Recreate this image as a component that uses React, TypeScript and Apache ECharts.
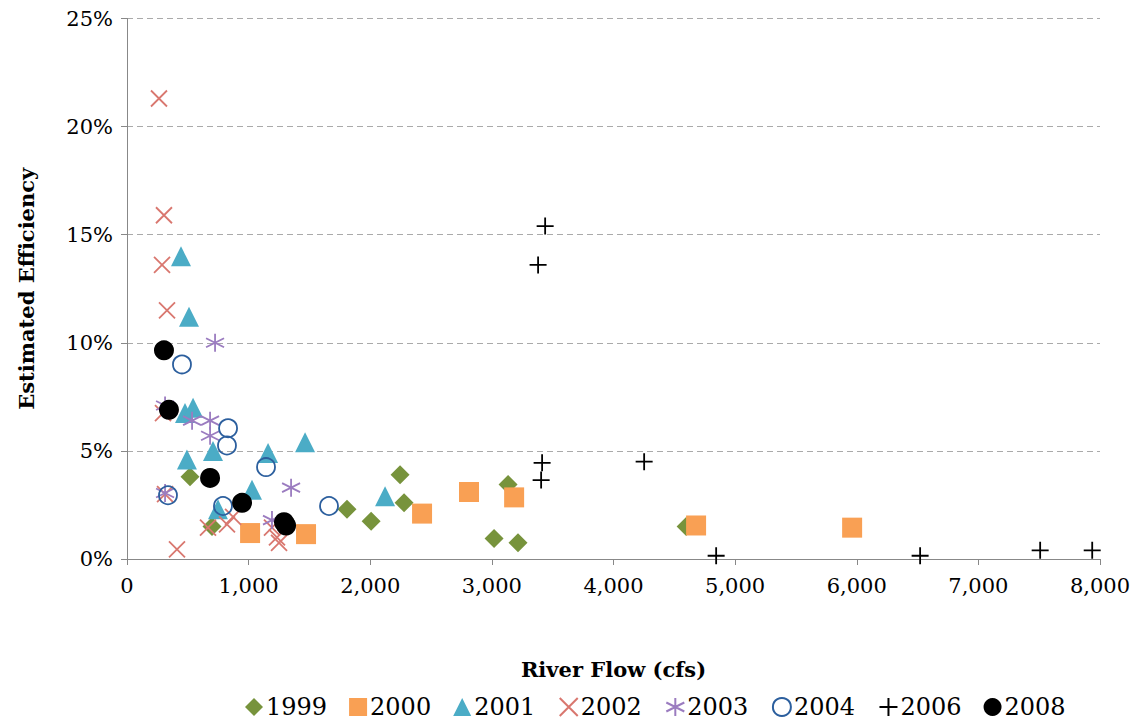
import React, { useEffect, useRef } from "react";
import * as echarts from "echarts";

const s1999 = [[518, 3.8], [699, 1.5], [1809, 2.3], [2007, 1.75], [2245, 3.9], [2278, 2.6], [3018, 0.95], [3215, 0.75], [3133, 3.45], [4597, 1.5]];
const s2000 = [[1012, 1.2], [1472, 1.15], [2426, 2.1], [2812, 3.1], [3183, 2.85], [4679, 1.55], [5962, 1.45]];
const s2001 = [[444, 14.0], [510, 11.2], [493, 4.6], [477, 6.75], [543, 7.0], [707, 5.0], [1160, 4.9], [1028, 3.2], [748, 2.3], [1464, 5.4], [2122, 2.9]];
const s2002 = [[263, 21.3], [304, 15.9], [288, 13.6], [329, 11.5], [296, 6.75], [313, 3.0], [411, 0.45], [666, 1.45], [822, 1.6], [872, 1.95], [1250, 0.75], [1233, 1.0], [1192, 1.45]];
const s2003 = [[724, 10.0], [313, 7.1], [535, 6.4], [683, 6.4], [683, 5.7], [313, 3.05], [1349, 3.3], [1192, 1.8]];
const s2004 = [[452, 9.0], [831, 6.05], [822, 5.25], [1143, 4.25], [337, 2.95], [789, 2.45], [1661, 2.45]];
const s2006 = [[3438, 15.4], [3380, 13.6], [3413, 4.45], [3405, 3.65], [4252, 4.5], [4844, 0.15], [6521, 0.15], [7508, 0.4], [7936, 0.4]];
const s2008 = [[304, 9.65], [345, 6.9], [683, 3.75], [946, 2.6], [1291, 1.7], [1308, 1.55]];

const xPath = "M0,0L10,10M10,0L0,10";
const plusPath = "M5,0L5,10M0,5L10,5";
const starPath = "M5,0L5,10M0,2.5L10,7.5M0,7.5L10,2.5";

const FONT = "DejaVu Serif";

export default function App() {
  const ref = useRef<HTMLDivElement>(null);
  useEffect(() => {
    if (!ref.current) return;
    const chart = echarts.init(ref.current, null, { renderer: "svg" });
    const mk = (name: string, data: number[][], symbol: string, size: number, color: string, stroke = false) => ({
      name,
      type: "scatter",
      data,
      symbol,
      symbolSize: size,
      itemStyle: stroke
        ? { color: "none", borderColor: color, borderWidth: 1.8, opacity: 1 }
        : { color, opacity: 1 },
    });
    chart.setOption({
      animation: false,
      textStyle: { fontFamily: FONT },
      grid: { left: 119, right: 34, top: 10, bottom: 161 },
      xAxis: {
        type: "value", min: 0, max: 8000, interval: 1000,
        name: "River Flow (cfs)", nameLocation: "middle", nameGap: 100,
        nameTextStyle: { fontFamily: FONT, fontWeight: "bold", fontSize: 21, color: "#000" },
        axisLine: { lineStyle: { color: "#888" } },
        axisTick: { show: true, inside: false, length: 6, lineStyle: { color: "#888" } },
        axisLabel: { fontSize: 21, color: "#000", margin: 16, formatter: (v: number) => v.toLocaleString("en-US") },
        splitLine: { show: false },
      },
      yAxis: {
        type: "value", min: 0, max: 25, interval: 5,
        name: "Estimated Efficiency", nameLocation: "middle", nameGap: 90,
        nameTextStyle: { fontFamily: FONT, fontWeight: "bold", fontSize: 21, color: "#000" },
        axisLine: { show: true, lineStyle: { color: "#888" } },
        axisTick: { show: true, length: 6, lineStyle: { color: "#888" } },
        axisLabel: { fontSize: 21, color: "#000", margin: 14, formatter: "{value}%" },
        splitLine: { lineStyle: { color: "#aaa", type: [6, 4] } },
      },
      legend: {
        bottom: -4, left: 232, itemGap: 22, itemWidth: 18, itemHeight: 18,
        textStyle: { fontSize: 24, color: "#000", fontFamily: FONT, padding: [0, 0, 0, -2] },
        data: ["1999", "2000", "2001", "2002", "2003", "2004", "2006", "2008"],
      },
      series: [
        mk("1999", s1999, "diamond", 19, "#77933c"),
        mk("2000", s2000, "rect", 20, "#f9a054"),
        mk("2001", s2001, "triangle", 20, "#4bacc6"),
        mk("2002", s2002, "path://" + xPath, 16, "#d9776f", true),
        mk("2003", s2003, "path://" + starPath, 18, "#9b7cc0", true),
        mk("2004", s2004, "circle", 18, "#2c5f9e", true),
        mk("2006", s2006, "path://" + plusPath, 17, "#000", true),
        mk("2008", s2008, "circle", 20, "#000"),
      ],
    });
    return () => chart.dispose();
  }, []);
  return <div ref={ref} style={{ width: 1126, height: 712 }} />;
}
